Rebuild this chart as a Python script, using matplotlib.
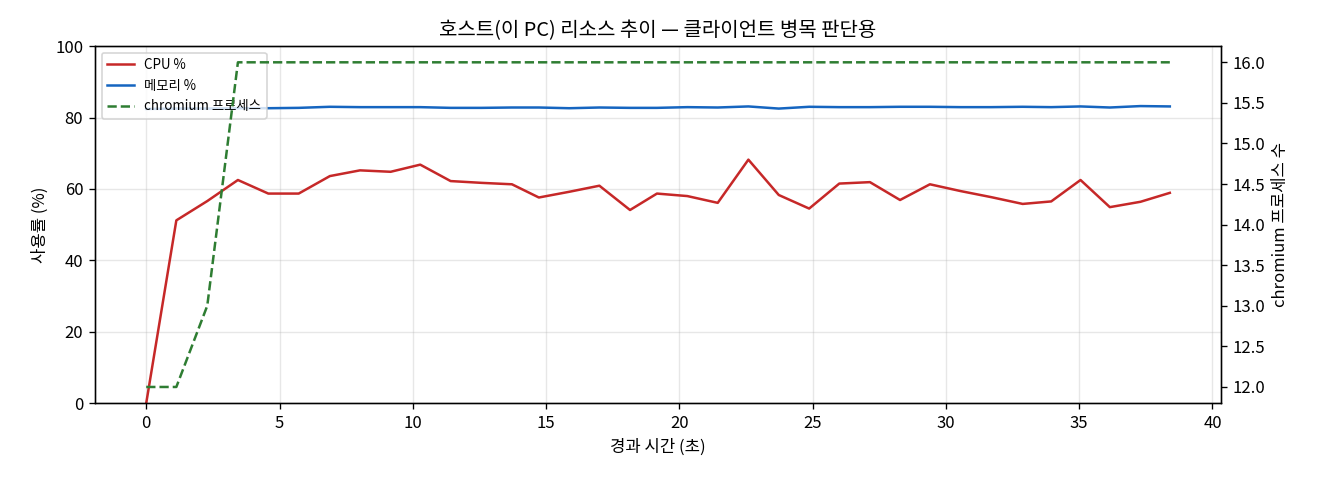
import matplotlib
matplotlib.use("Agg")
import matplotlib.pyplot as plt

plt.rcParams['font.family'] = ['Noto Sans CJK KR', 'DejaVu Sans']
plt.rcParams['axes.unicode_minus'] = False

# elapsed seconds
elapsed = [0.0, 1.13, 2.29, 3.44, 4.58, 5.72, 6.89, 8.02, 9.17, 10.28,
           11.42, 12.58, 13.72, 14.73, 15.87, 17.0, 18.15, 19.16, 20.3, 21.44,
           22.59, 23.73, 24.87, 26.0, 27.15, 28.28, 29.4, 30.55, 31.7, 32.88,
           33.95, 35.05, 36.15, 37.3, 38.4]
cpu = [0.0, 51.2, 56.6, 62.5, 58.7, 58.7, 63.6, 65.2, 64.8, 66.8,
       62.2, 61.7, 61.3, 57.6, 59.2, 60.9, 54.1, 58.7, 58.0, 56.1,
       68.2, 58.3, 54.5, 61.5, 61.9, 56.9, 61.3, 59.4, 57.7, 55.8,
       56.5, 62.5, 54.9, 56.4, 58.9]
mem = [82.4, 82.5, 82.5, 82.6, 82.6, 82.7, 83.0, 82.9, 82.9, 82.9,
       82.7, 82.7, 82.8, 82.8, 82.6, 82.8, 82.7, 82.7, 82.9, 82.8,
       83.1, 82.5, 83.0, 82.9, 82.9, 83.0, 83.0, 82.9, 82.9, 83.0,
       82.9, 83.1, 82.8, 83.2, 83.1]
chromium = [12, 12, 13, 16, 16, 16, 16, 16, 16, 16,
            16, 16, 16, 16, 16, 16, 16, 16, 16, 16,
            16, 16, 16, 16, 16, 16, 16, 16, 16, 16,
            16, 16, 16, 16, 16]

fig, ax1 = plt.subplots(figsize=(11, 4), dpi=120)
ax2 = ax1.twinx()

l1, = ax1.plot(elapsed, cpu, color="#c62828", lw=1.5, label="CPU %")
l2, = ax1.plot(elapsed, mem, color="#1565c0", lw=1.5, label="메모리 %")
l3, = ax2.plot(elapsed, chromium, color="#2e7d32", lw=1.5, ls="--",
               label="chromium 프로세스")

ax1.set_ylim(0, 100)
ax1.set_xlabel("경과 시간 (초)")
ax1.set_ylabel("사용률 (%)")
ax2.set_ylabel("chromium 프로세스 수")
ax1.set_title("호스트(이 PC) 리소스 추이 — 클라이언트 병목 판단용")
ax1.grid(alpha=0.3)
ax1.legend(handles=[l1, l2, l3], loc="upper left", fontsize=8)

fig.subplots_adjust(left=0.072, right=0.925, top=0.904, bottom=0.16)
fig.savefig("out.png")
